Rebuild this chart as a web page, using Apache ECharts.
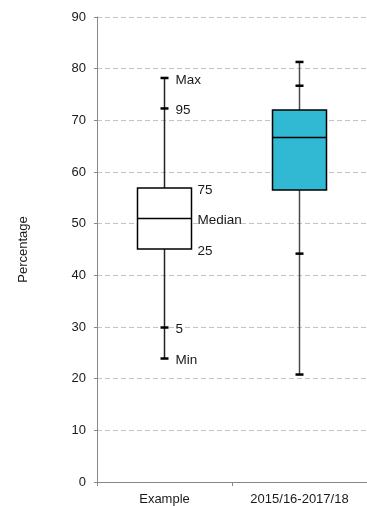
<!DOCTYPE html>
<html>
<head>
<meta charset="utf-8">
<script src="https://cdn.jsdelivr.net/npm/echarts@6/dist/echarts.min.js"></script>
<style>
  html, body { margin: 0; padding: 0; background: #ffffff; }
  #chart { width: 367px; height: 506px; }
</style>
</head>
<body>
<div id="chart"></div>
<script>
// ---- Data ----
const categories = ['Example', '2015/16-2017/18'];
// order: min, p5, q1, median, q3, p95, max
const exampleStats = [23.9, 29.9, 45.1, 51.0, 56.9, 72.3, 78.2];
const periodStats  = [20.8, 44.2, 56.5, 66.7, 72.0, 76.7, 81.3];
const statLabels   = ['Min', '5', '25', 'Median', '75', '95', 'Max'];
const yTicks = { min: 0, max: 90, interval: 10 };
const axisTitle = 'Percentage';

const boxFills = ['#ffffff', '#31b8d2'];
const whiskerColors = ['#222222', '#4a4a4a'];

const seriesData = [
  [0].concat(exampleStats),
  [1].concat(periodStats)
];

const FONT = '"Liberation Sans", Arial, sans-serif';

function renderBox(params, api) {
  const idx = api.value(0);
  const v = [];
  for (let k = 1; k <= 7; k++) v.push(api.value(k));
  const cx = api.coord([idx, v[3]])[0];
  const band = api.size([1, 0])[0];
  const bw = band * 0.4;
  const Y = val => api.coord([idx, val])[1];
  const left = cx - bw / 2, right = cx + bw / 2;
  const wc = whiskerColors[idx];
  const children = [];
  // whiskers
  children.push({ type: 'line', shape: { x1: cx, y1: Y(v[0]), x2: cx, y2: Y(v[2]) },
    style: { stroke: wc, lineWidth: 1.5 } });
  children.push({ type: 'line', shape: { x1: cx, y1: Y(v[4]), x2: cx, y2: Y(v[6]) },
    style: { stroke: wc, lineWidth: 1.5 } });
  // box
  children.push({ type: 'rect', shape: { x: left, y: Y(v[4]), width: bw, height: Y(v[2]) - Y(v[4]) },
    style: { fill: boxFills[idx], stroke: '#000', lineWidth: 1.5 } });
  // median
  children.push({ type: 'line', shape: { x1: left, y1: Y(v[3]), x2: right, y2: Y(v[3]) },
    style: { stroke: '#000', lineWidth: 1.5 } });
  // caps at min, p5, p95, max
  [0, 1, 5, 6].forEach(k => {
    children.push({ type: 'rect', shape: { x: cx - 4, y: Y(v[k]) - 1.25, width: 8, height: 2.5 },
      style: { fill: '#000' } });
  });
  // annotation labels for the example box
  if (idx === 0) {
    statLabels.forEach((t, k) => {
      const inBox = (k >= 2 && k <= 4);
      children.push({ type: 'text',
        x: inBox ? right + 6 : cx + 11,
        y: Y(v[k]) + 2,
        style: { text: t, fill: '#1a1a1a', font: '13.5px ' + FONT,
          textAlign: 'left', textVerticalAlign: 'middle' } });
    });
  }
  return { type: 'group', children: children };
}

const chart = echarts.init(document.getElementById('chart'), null, { renderer: 'canvas' });
chart.setOption({
  animation: false,
  backgroundColor: '#ffffff',
  textStyle: { fontFamily: FONT },
  grid: { left: 97, right: -2, top: 17, bottom: 23, containLabel: false },
  xAxis: {
    type: 'category',
    data: categories,
    boundaryGap: true,
    axisLine: { lineStyle: { color: '#888888', width: 1 } },
    axisTick: { show: true, length: 4, lineStyle: { color: '#888888' } },
    axisLabel: { color: '#1a1a1a', fontSize: 13, margin: 11, fontFamily: FONT },
    splitLine: { show: false }
  },
  yAxis: {
    type: 'value',
    min: yTicks.min, max: yTicks.max, interval: yTicks.interval,
    name: axisTitle,
    nameLocation: 'middle',
    nameRotate: 90,
    nameGap: 67,
    nameTextStyle: { color: '#1a1a1a', fontSize: 13, fontFamily: FONT },
    axisLine: { show: true, lineStyle: { color: '#888888', width: 1 } },
    axisTick: { show: true, length: 3, lineStyle: { color: '#888888' } },
    axisLabel: { color: '#1a1a1a', fontSize: 13, margin: 11, fontFamily: FONT },
    splitLine: { show: true, lineStyle: { color: '#c4c4c4', type: [5, 3], width: 1 } }
  },
  series: [{
    type: 'custom',
    renderItem: renderBox,
    encode: { x: 0, y: [1, 2, 3, 4, 5, 6, 7] },
    data: seriesData,
    clip: false
  }]
});
</script>
</body>
</html>
